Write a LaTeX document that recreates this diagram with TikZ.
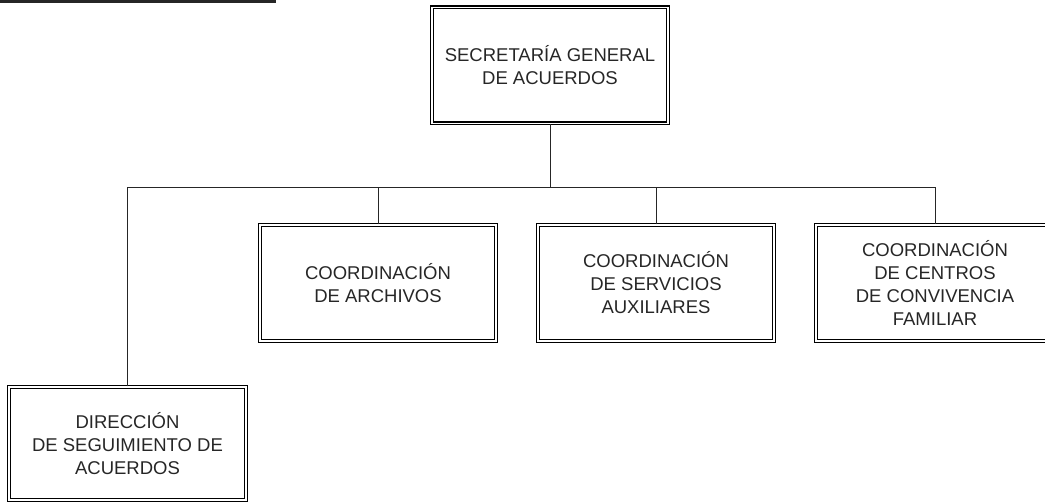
\documentclass[tikz,border=0pt]{standalone}
\usepackage{fontspec}
\newfontfamily\arial{Liberation Sans}
\usepackage{tikz}
\usetikzlibrary{calc,positioning}

\tikzset{
  unidad/.style={draw=black, line width=1.2pt, double=white, double distance=1.6pt,
    align=center, inner sep=0pt, text=black!85,
    font=\arial\fontsize{18.5}{23}\selectfont},
  linea/.style={line width=1pt, black!85}
}

\begin{document}
\begin{tikzpicture}[x=1pt,y=-1pt]
			\useasboundingbox (0,0) rectangle (1045,502);
			\clip (0,0) rectangle (1045,502);
			% raya de encabezado
			\draw[line width=3pt, black!85] (0,2)--(276,2);
			\coordinate (bar) at (0,188);
			% unidades
			\node[unidad, minimum width=236pt, minimum height=116pt] (sga) at (550,65.5) {SECRETARÍA GENERAL\\DE ACUERDOS};
			\node[unidad, minimum width=236pt, minimum height=116pt] (cda) at (378,283) {COORDINACIÓN\\DE ARCHIVOS};
			\node[unidad, minimum width=236pt, minimum height=116pt] (csa) at (656,283) {COORDINACIÓN\\DE SERVICIOS\\AUXILIARES};
			\node[unidad, minimum width=238pt, minimum height=116pt] (ccf) at (935,283) {COORDINACIÓN\\DE CENTROS\\DE CONVIVENCIA\\FAMILIAR};
			\node[unidad, minimum width=237pt, minimum height=113pt] (dsa) at (127.5,443.5) {DIRECCIÓN\\DE SEGUIMIENTO DE\\ACUERDOS};
			% lineas de mando
			\draw[linea] (sga.south) -- (sga.south |- bar);
			\draw[linea] (dsa.north) |- (ccf.north |- bar) -- (ccf.north);
			\draw[linea] (cda.north) -- (cda.north |- bar);
			\draw[linea] (csa.north) -- (csa.north |- bar);
		\end{tikzpicture}
\end{document}
